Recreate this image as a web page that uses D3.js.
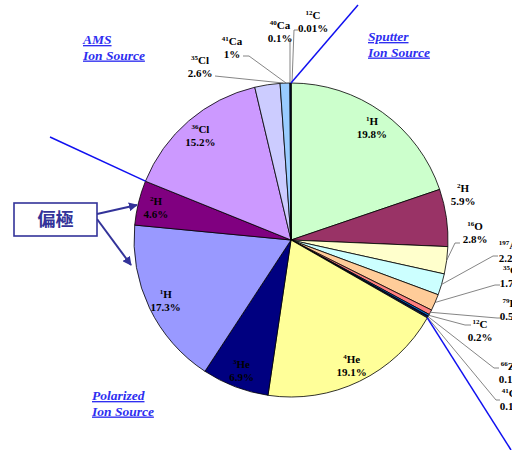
<!DOCTYPE html>
<html><head><meta charset="utf-8">
<script src="https://cdn.jsdelivr.net/npm/d3@7"></script>
<style>body{margin:0;background:#fff} svg{display:block}</style>
</head><body>
<script>
// ---- data ----
const masses   = [1, 2, 16, 197, 35, 79, 12, 66, 41, 4, 3, 1, 2, 36, 35, 41, 40, 12];
const elements = ["H","H","O","Au","Cl","Br","C","Zn","Ca","He","He","H","H","Cl","Cl","Ca","Ca","C"];
const values   = [19.8, 5.9, 2.8, 2.2, 1.7, 0.5, 0.2, 0.1, 0.1, 19.1, 6.9, 17.3, 4.6, 15.2, 2.6, 1, 0.1, 0.01];
const pctLabels= ["19.8%","5.9%","2.8%","2.2%","1.7%","0.5%","0.2%","0.1%","0.1%","19.1%","6.9%","17.3%","4.6%","15.2%","2.6%","1%","0.1%","0.01%"];
const colors   = ["#CCFFCC","#993366","#FFFFCC","#CCFFFF","#FFCC99","#FF8080","#0066CC","#000080","#3366FF",
                  "#FFFF99","#000080","#9999FF","#800080","#CC99FF","#CCCCFF","#99CCFF","#3366FF","#0000FF"];
const groupTitles = [["Sputter","Ion Source"],["Polarized","Ion Source"],["AMS","Ion Source"]];
const groupStarts = [0, 9, 13];   // first slice index of each ion-source group
const noteText = "偏極";

// ---- layout ----
const W = 512, H = 450, cx = 291, cy = 240, R = 157;
const svg = d3.select("body").append("svg").attr("width", W).attr("height", H);
const FONT = "'Liberation Serif','Times New Roman',serif";

const pie = d3.pie().sort(null).value(d => d).startAngle(0).endAngle(2 * Math.PI);
const arcs = pie(values);
const arc = d3.arc().innerRadius(0).outerRadius(R);

const g = svg.append("g").attr("transform", `translate(${cx},${cy})`);
g.selectAll("path").data(arcs).join("path")
  .attr("d", arc)
  .attr("fill", (d, i) => colors[i])
  .attr("stroke", "#000").attr("stroke-width", 0.8).attr("stroke-linejoin", "round");

function pt(angle, r) { return [cx + r * Math.sin(angle), cy - r * Math.cos(angle)]; }

// label drawing
function drawLabel(i, x, y, anchor) {
  const t = svg.append("text").attr("x", x).attr("y", y - 2)
    .attr("text-anchor", anchor || "middle").attr("font-family", FONT)
    .attr("font-weight", "bold").attr("font-size", 11).attr("fill", "#000");
  t.append("tspan").attr("font-size", 7).attr("dy", -4).text(masses[i]);
  t.append("tspan").attr("dy", 4).text(elements[i]);
  svg.append("text").attr("x", x).attr("y", y + 11)
    .attr("text-anchor", anchor || "middle").attr("font-family", FONT)
    .attr("font-weight", "bold").attr("font-size", 11).attr("fill", "#000")
    .text(pctLabels[i]);
}

// inside labels
const insideR = 139;
[0, 9, 10, 11, 12, 13].forEach(i => {
  const a = (arcs[i].startAngle + arcs[i].endAngle) / 2;
  const [x, y] = pt(a, insideR);
  drawLabel(i, x, y);
});

// outside labels: text centre + leader polyline (annotation layout)
const outside = [
  { i: 1,  t: [463, 194], lead: null },
  { i: 2,  t: [475, 232], lead: [[460, 243], [455, 243]] },
  { i: 3,  t: [511, 251], lead: [[498, 256], [493, 256]] },
  { i: 4,  t: [512, 276], lead: [[500, 285], [495, 285]] },
  { i: 5,  t: [512, 309], lead: [[501, 318], [497, 318]] },
  { i: 6,  t: [480, 330], lead: [[471, 325], [465, 325]] },
  { i: 7,  t: [511, 372], lead: [[499, 368], [494, 368]] },
  { i: 8,  t: [512, 399], lead: [[500, 400], [496, 400]] },
  { i: 14, t: [200, 66],  lead: [[215, 76], [283, 83]], fixed: true },
  { i: 15, t: [232, 47],  lead: [[243, 56], [249, 56], [286, 83]], fixed: true },
  { i: 16, t: [280, 31],  lead: [[290, 40], [290, 83]], fixed: true },
  { i: 17, t: [313, 21],  lead: [[298, 30], [294, 30], [292, 83]], fixed: true }
];
const line = d3.line();
outside.forEach(o => {
  if (o.lead) {
    let pts;
    if (o.fixed) pts = o.lead;
    else {
      const a = (arcs[o.i].startAngle + arcs[o.i].endAngle) / 2;
      pts = o.lead.concat([pt(a, R)]);
    }
    svg.append("path").attr("d", line(pts)).attr("fill", "none")
      .attr("stroke", "#666").attr("stroke-width", 0.8);
  }
  drawLabel(o.i, o.t[0], o.t[1]);
});

// blue group divider lines from slice boundaries
const dividerEnds = [[358, 5], [511, 450], [50, 137]];
groupStarts.forEach((s, k) => {
  const p0 = pt(arcs[s].startAngle, R);
  svg.append("line").attr("x1", p0[0]).attr("y1", p0[1])
    .attr("x2", dividerEnds[k][0]).attr("y2", dividerEnds[k][1])
    .attr("stroke", "#1010F0").attr("stroke-width", 1.5);
});

// group titles
const titlePos = [[368, 41], [92, 400], [83, 44]];
groupTitles.forEach((tt, k) => {
  tt.forEach((s, j) => {
    svg.append("text").attr("x", titlePos[k][0]).attr("y", titlePos[k][1] + j * 15.5)
      .attr("font-family", FONT).attr("font-weight", "bold").attr("font-style", "italic")
      .attr("font-size", 13.5).attr("fill", "#2E2EF0")
      .attr("text-decoration", "underline").text(s);
  });
});

// note box with arrows
const noteColor = "#333399";
svg.append("defs").append("marker").attr("id", "ah")
  .attr("viewBox", "0 0 10 10").attr("refX", 9).attr("refY", 5)
  .attr("markerWidth", 4.5).attr("markerHeight", 4.5).attr("orient", "auto")
  .append("path").attr("d", "M0,0L10,5L0,10z").attr("fill", noteColor);
svg.append("line").attr("x1", 97).attr("y1", 214).attr("x2", 137).attr("y2", 205)
  .attr("stroke", noteColor).attr("stroke-width", 2).attr("marker-end", "url(#ah)");
svg.append("line").attr("x1", 97).attr("y1", 219).attr("x2", 131).attr("y2", 265)
  .attr("stroke", noteColor).attr("stroke-width", 2).attr("marker-end", "url(#ah)");
svg.append("rect").attr("x", 14).attr("y", 203).attr("width", 83).attr("height", 33)
  .attr("fill", "#fff").attr("stroke", noteColor).attr("stroke-width", 1.6);
svg.append("text").attr("x", 55.5).attr("y", 226).attr("text-anchor", "middle")
  .attr("font-family", "'Noto Sans CJK JP','Noto Sans CJK SC',sans-serif")
  .attr("font-weight", "bold").attr("font-size", 18).attr("fill", noteColor).text(noteText);
</script>
</body></html>
